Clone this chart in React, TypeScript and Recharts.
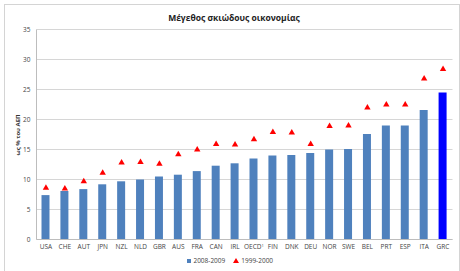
import {
  ComposedChart,
  Bar,
  Scatter,
  Cell,
  XAxis,
  YAxis,
  CartesianGrid,
  Legend,
} from "recharts";

const countries = [
  "USA", "CHE", "AUT", "JPN", "NZL", "NLD", "GBR", "AUS", "FRA", "CAN", "IRL",
  "OECD", "FIN", "DNK", "DEU", "NOR", "SWE", "BEL", "PRT", "ESP", "ITA", "GRC",
];

const values2008 = [
  7.4, 8.1, 8.4, 9.2, 9.7, 10.0, 10.5, 10.8, 11.4, 12.3, 12.7,
  13.5, 14.0, 14.1, 14.4, 15.0, 15.1, 17.6, 19.0, 19.0, 21.6, 24.5,
];

const values1999 = [
  8.7, 8.6, 9.8, 11.2, 12.9, 13.0, 12.7, 14.3, 15.1, 16.0, 15.9,
  16.8, 18.0, 17.9, 16.0, 19.0, 19.1, 22.1, 22.6, 22.6, 26.9, 28.5,
];

const yTicks = [0, 5, 10, 15, 20, 25, 30, 35];

const data = countries.map((c, i) => ({
  name: c,
  v2008: values2008[i],
  v1999: values1999[i],
}));

const font = "'Open Sans', 'Liberation Sans', sans-serif";

const Triangle = (props: any) => {
  const { cx, cy } = props;
  if (cx == null || cy == null) return null;
  return (
    <polygon
      points={`${cx},${cy - 3} ${cx - 3.2},${cy + 2.5} ${cx + 3.2},${cy + 2.5}`}
      fill="#FF0000"
    />
  );
};

const XTick = (props: any) => {
  const { x, y, payload } = props;
  const label = payload.value === "OECD" ? "OECD" : payload.value;
  return (
    <text x={x} y={y} dy="0.71em" textAnchor="middle" fontSize={6.5} fill="#444" fontFamily={font}>
      {label}
      {payload.value === "OECD" && (
        <tspan fontSize={4} dy={-2}>1</tspan>
      )}
    </text>
  );
};

const renderLegend = () => (
  <div
    style={{
      display: "flex",
      justifyContent: "center",
      gap: 8,
      height: 12,
      alignItems: "center",
      fontSize: 6.5,
      color: "#444",
      fontFamily: font,
      paddingLeft: 8,
    }}
  >
    <span style={{ display: "flex", alignItems: "center", gap: 2 }}>
      <span style={{ width: 4, height: 4, background: "#4F81BD", display: "inline-block" }} />
      2008-2009
    </span>
    <span style={{ display: "flex", alignItems: "center", gap: 2 }}>
      <svg width={6} height={5}>
        <polygon points="3,0 0,5 6,5" fill="#FF0000" />
      </svg>
      1999-2000
    </span>
  </div>
);

export default function App() {
  return (
    <div style={{ position: "absolute", left: 0, top: 0, width: 460, height: 271, background: "#fff", overflow: "hidden" }}>
      <div
        style={{
          position: "absolute",
          left: 4,
          top: 4,
          width: 454,
          height: 270,
          border: "1px solid #d4d4d4",
        }}
      />
      <div
        style={{
          position: "absolute",
          top: 12,
          left: 0,
          width: 468,
          textAlign: "center",
          fontFamily: font,
          fontWeight: "bold",
          fontSize: 8.5,
          color: "#222",
        }}
      >
        Μέγεθος σκιώδους οικονομίας
      </div>
      <div style={{ position: "absolute", left: 0, top: 0 }}>
        <ComposedChart
          width={460}
          height={271}
          data={data}
          margin={{ top: 29.5, right: 7.5, left: 0, bottom: 4.5 }}
        >
          <CartesianGrid vertical={false} stroke="#d6d6d6" strokeWidth={1} />
          <XAxis
            dataKey="name"
            interval={0}
            tickLine={false}
            tickSize={3}
            tickMargin={1.5}
            height={15}
            axisLine={{ stroke: "#bdbdbd" }}
            tick={<XTick />}
          />
          <YAxis
            domain={[0, 35]}
            ticks={yTicks}
            width={36.5}
            tickLine={false}
            tickSize={0}
            tickMargin={6}
            axisLine={{ stroke: "#bdbdbd" }}
            tick={{ fontSize: 6.5, fill: "#444", fontFamily: font }}
            label={{
              content: () => (
                <text
                  x={18}
                  y={135}
                  transform="rotate(-90 18 135)"
                  textAnchor="middle"
                  dominantBaseline="middle"
                  fontSize={6}
                  fontWeight="bold"
                  fill="#333"
                  fontFamily={font}
                >
                  ως % του ΑΕΠ
                </text>
              ),
            }}
          />
          <Legend verticalAlign="bottom" content={renderLegend} />
          <Bar dataKey="v2008" barSize={8} isAnimationActive={false}>
            {data.map((d, i) => (
              <Cell key={i} fill={d.name === "GRC" ? "#0000FF" : "#4F81BD"} />
            ))}
          </Bar>
          <Scatter dataKey="v1999" shape={<Triangle />} isAnimationActive={false} />
        </ComposedChart>
      </div>
    </div>
  );
}
